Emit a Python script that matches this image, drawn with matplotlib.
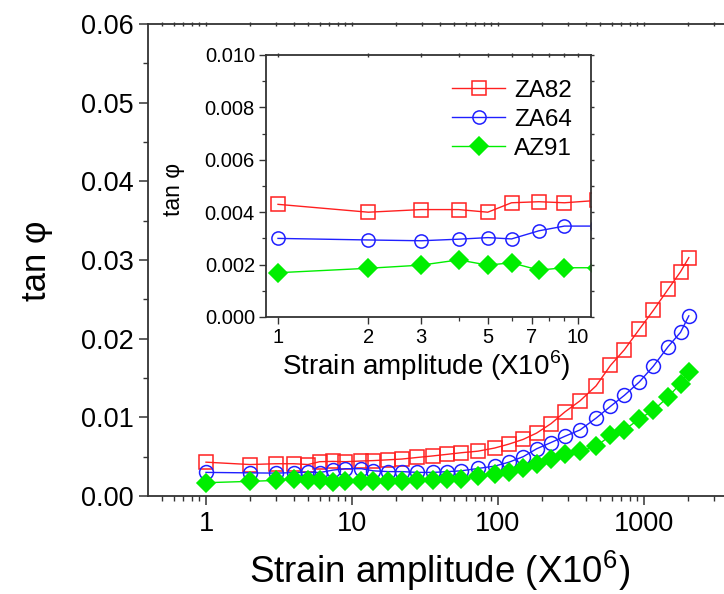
import matplotlib.pyplot as plt
from matplotlib.ticker import FixedLocator, NullFormatter, LogLocator, FormatStrFormatter

plt.rcParams['font.family'] = ['Liberation Sans', 'DejaVu Sans']
plt.rcParams['mathtext.fontset'] = 'custom'
plt.rcParams['mathtext.rm'] = 'Liberation Sans'

# strain amplitude (x10^6)
strain = [1, 2, 3, 4, 5, 6, 7.4, 9, 11.6, 14, 17.7, 22, 28, 36, 45, 56, 73, 95,
          119, 149, 184, 231, 288, 365, 470, 590, 735, 930, 1160, 1466, 1780, 2030]

za82 = [0.0043, 0.0040, 0.0041, 0.0041, 0.0040, 0.00436, 0.0044, 0.00436, 0.00445,
        0.0045, 0.0046, 0.0047, 0.0049, 0.0051, 0.0053, 0.0055, 0.0057, 0.0061,
        0.0066, 0.0072, 0.0080, 0.0092, 0.0107, 0.0121, 0.0140, 0.0166, 0.0186,
        0.0212, 0.0236, 0.0263, 0.0285, 0.0303]

za64 = [0.0030, 0.00294, 0.00291, 0.00297, 0.00303, 0.00298, 0.00329, 0.00347, 0.00347,
        0.0032, 0.0031, 0.0031, 0.0030, 0.0030, 0.0031, 0.0032, 0.0035, 0.0038,
        0.0043, 0.0050, 0.0060, 0.0068, 0.0076, 0.0084, 0.0099, 0.0114, 0.0128,
        0.0145, 0.0165, 0.0190, 0.0208, 0.0229]

az91 = [0.00169, 0.00186, 0.00198, 0.00218, 0.00198, 0.00207, 0.00179, 0.00188, 0.00188,
        0.0019, 0.0019, 0.0019, 0.0020, 0.0020, 0.0021, 0.0022, 0.0025, 0.0028,
        0.0031, 0.0035, 0.0041, 0.0047, 0.0053, 0.0057, 0.0063, 0.0077, 0.0084,
        0.0098, 0.0109, 0.0126, 0.0143, 0.0158]

series = [
    ('ZA82', za82, 's', '#ff2020', 'none'),
    ('ZA64', za64, 'o', '#2020ff', 'none'),
    ('AZ91', az91, 'D', '#00ee00', '#00ee00'),
]

spine_col = '#333333'
xlab = 'Strain amplitude (X10$^{\\mathrm{6}}$)'

fig = plt.figure(figsize=(7.24, 5.94), dpi=100)

# main axes
ax = fig.add_axes([148/724, 98/594, (740-148)/724, 472/594])
for name, y, m, c, fc in series:
    ax.plot(strain, y, color=c, lw=1.0, marker=m, ms=10 if m != 'D' else 9.5,
            mfc=fc, mec=c, mew=1.1)
ax.set_xscale('log')
ax.set_xlim(0.4005, 4550)
ax.set_ylim(0, 0.06)
ax.set_xticks([1, 10, 100, 1000], labels=['1', '10', '100', '1000'])
ax.xaxis.set_minor_locator(LogLocator(base=10, subs=range(2, 10)))
ax.xaxis.set_minor_formatter(NullFormatter())
ax.set_yticks([0, 0.01, 0.02, 0.03, 0.04, 0.05, 0.06])
ax.yaxis.set_major_formatter(FormatStrFormatter('%.2f'))
ax.yaxis.set_minor_locator(FixedLocator([0.005, 0.015, 0.025, 0.035, 0.045, 0.055]))
ax.tick_params(which='major', direction='out', length=6.5, width=1.1,
               color=spine_col, labelsize=19.5, pad=4)
ax.tick_params(which='minor', direction='out', length=3.5, width=1.0, color=spine_col)
ax.spines['right'].set_visible(False)
for s in ['left', 'bottom', 'top']:
    ax.spines[s].set_linewidth(1.3)
    ax.spines[s].set_color(spine_col)
top = ax.secondary_xaxis('top')
top.set_xticks([1, 10, 100, 1000], labels=[])
top.xaxis.set_minor_locator(LogLocator(base=10, subs=range(2, 10)))
top.xaxis.set_minor_formatter(NullFormatter())
top.tick_params(which='both', direction='inout', length=2.5, width=1.0, color=spine_col)
top.spines['top'].set_visible(False)
ax.set_xlabel(xlab, fontsize=26.5)
ax.xaxis.set_label_coords(0.493, -0.11)
ax.set_ylabel('tan φ', fontsize=25)
ax.yaxis.set_label_coords(-0.16, 0.498)

# inset
ins = fig.add_axes([266/724, (594-317)/594, 325/724, 262/594])
ins.set_facecolor('white')
for name, y, m, c, fc in series:
    ins.plot(strain, y, color=c, lw=1.0, marker=m, ms=9.5,
             mfc=fc, mec=c, mew=1.1, label=name)
ins.set_xscale('log')
ins.set_xlim(0.912, 11.04)
ins.set_ylim(0, 0.010)
ins.set_xticks([1, 2, 3, 5, 7, 10], labels=['1', '2', '3', '5', '7', '10'])
ins.xaxis.set_minor_locator(LogLocator(base=10, subs=range(2, 10)))
ins.xaxis.set_minor_formatter(NullFormatter())
ins.set_yticks([0, 0.002, 0.004, 0.006, 0.008, 0.010])
ins.yaxis.set_major_formatter(FormatStrFormatter('%.3f'))
ins.yaxis.set_minor_locator(FixedLocator([0.001, 0.003, 0.005, 0.007, 0.009]))
ins.tick_params(which='major', direction='out', length=5, width=1.0,
                color=spine_col, labelsize=14.5, pad=3)
ins.tick_params(which='minor', direction='out', length=3, width=0.9, color=spine_col)
for s in ins.spines.values():
    s.set_linewidth(1.3)
    s.set_color(spine_col)
itop = ins.secondary_xaxis('top')
itop.set_xticks([1, 2, 3, 5, 7, 10], labels=[])
itop.xaxis.set_minor_locator(LogLocator(base=10, subs=range(2, 10)))
itop.xaxis.set_minor_formatter(NullFormatter())
itop.tick_params(which='both', direction='inout', length=2.5, width=1.0, color=spine_col)
itop.spines['top'].set_visible(False)
iright = ins.secondary_yaxis('right')
iright.set_yticks([0.001 * k for k in range(11)], labels=[])
iright.tick_params(which='both', direction='out', length=2.5, width=1.0, color=spine_col)
iright.spines['right'].set_visible(False)
ins.set_xlabel(xlab, fontsize=20)
ins.xaxis.set_label_coords(0.494, -0.12)
ins.set_ylabel('tan φ', fontsize=16.5)
ins.yaxis.set_label_coords(-0.249, 0.485)
ins.legend(loc='upper left', bbox_to_anchor=(0.572, 0.905), frameon=False,
           fontsize=17.5, handlelength=2.2, handletextpad=0.35, labelspacing=0.28,
           borderpad=0, borderaxespad=0)

fig.savefig('out.png', dpi=100)
